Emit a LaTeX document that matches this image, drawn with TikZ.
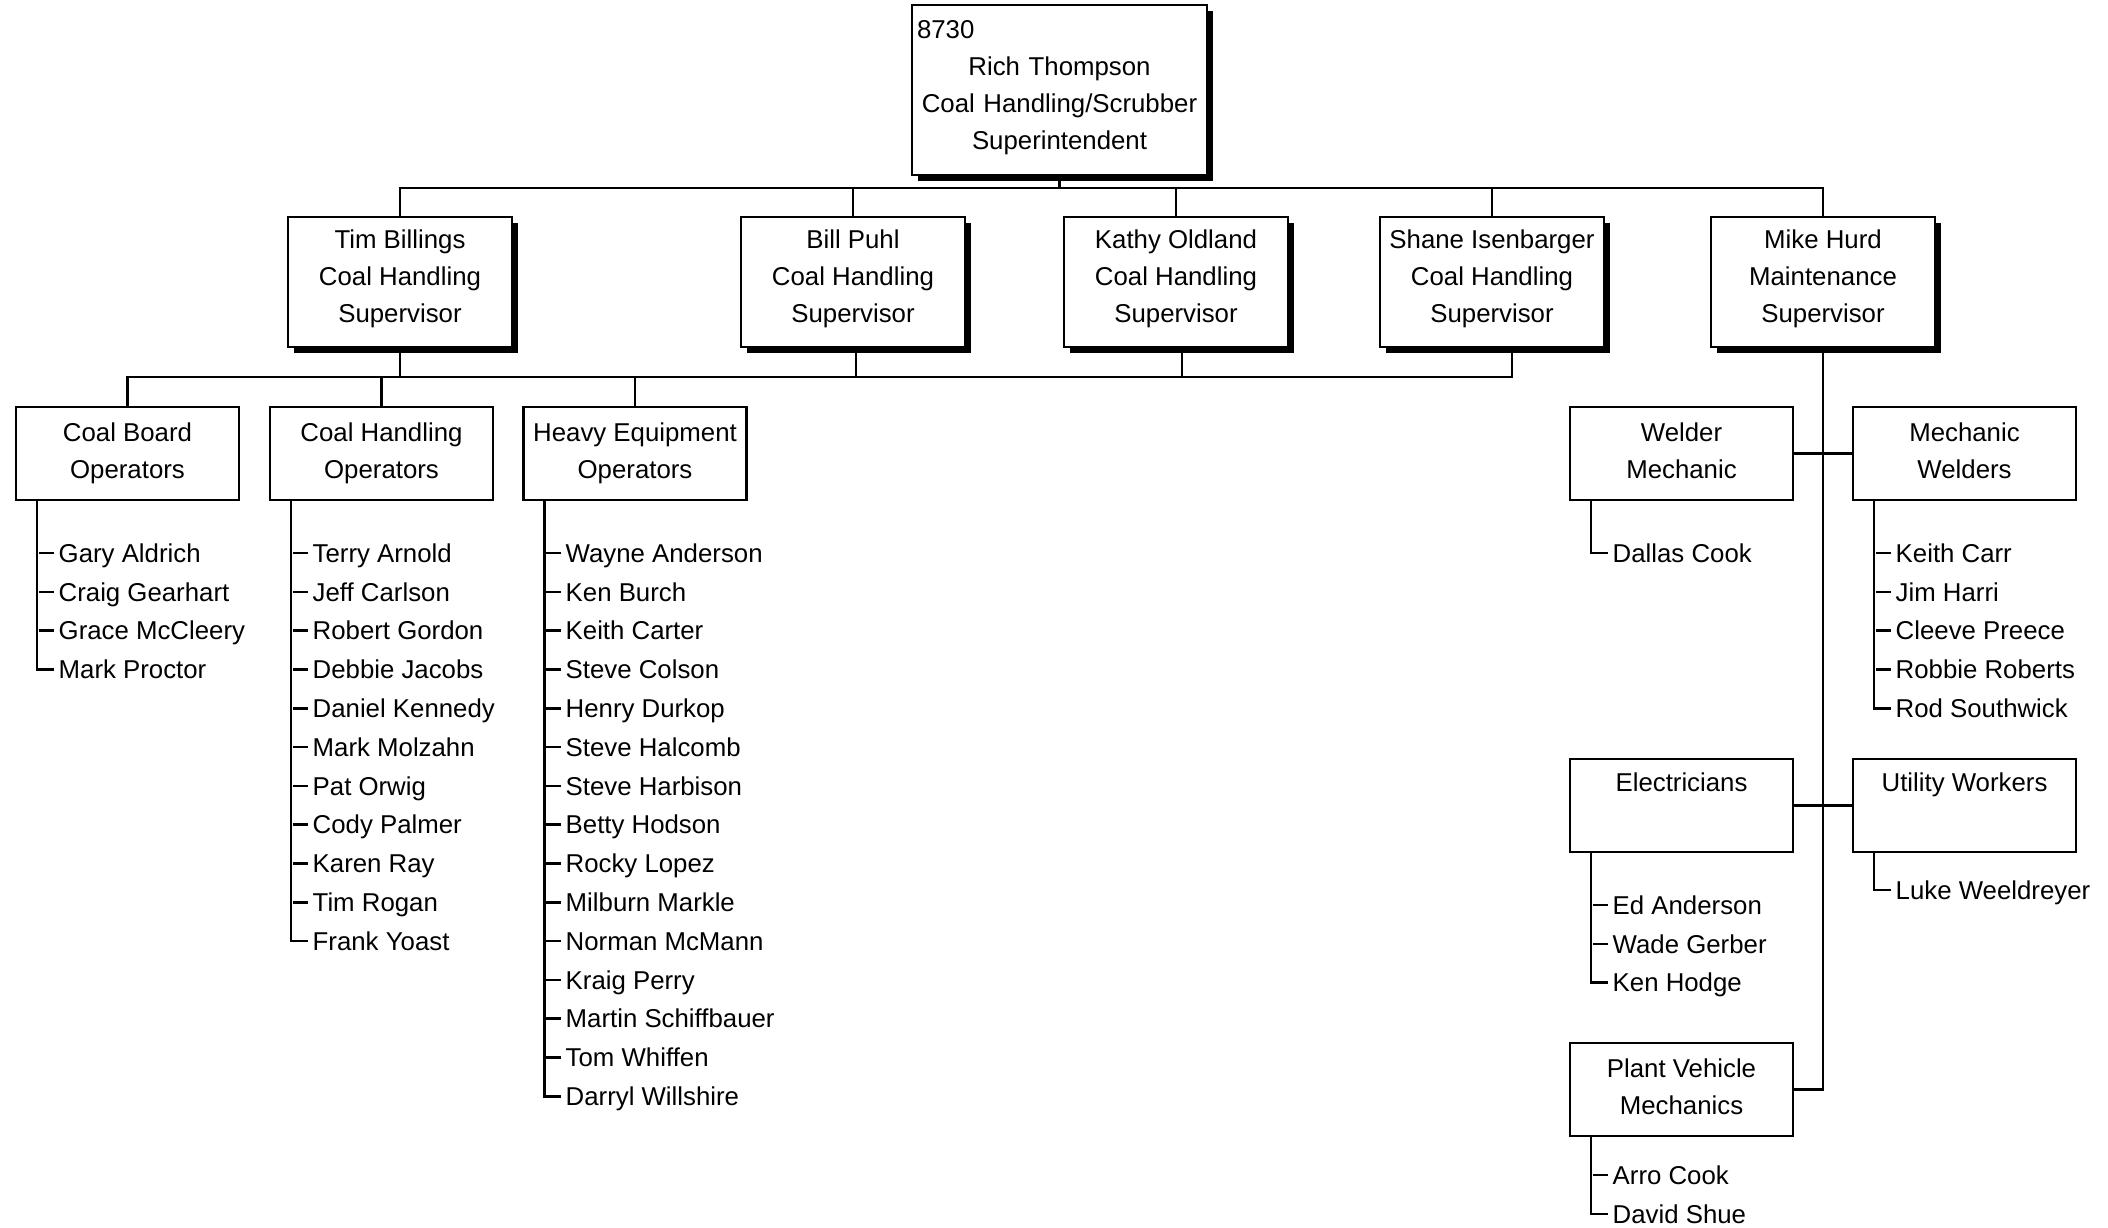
\documentclass[tikz,border=0pt]{standalone}
\usepackage{fontspec}
\setmainfont{Liberation Sans}
\usetikzlibrary{shadows,calc}
\newcommand\firstln{\rule{0pt}{18.8pt}}
\newcommand\lastln{\rule[-5.5pt]{0pt}{5.5pt}}
\newcommand\suplastln{\rule[-11.5pt]{0pt}{11.5pt}}
\newcommand\mklist[4]{%
  \foreach \nm [count=\i] in {#4} {%
    \node[item] (#1-\i) at ({#2+15}, {#3+(\i-1)*38.8}) {\nm};
    \draw[ln] (#1-\i.west) -- ++(-15,0);
    \xdef\lastn{\i}}
  \draw[ln] (#1.south west) ++(22.5,0) |- (#1-\lastn.west);}
\begin{document}
\begin{tikzpicture}[x=1pt,y=-1pt,
  every node/.style={font=\fontsize{25.8pt}{37pt}\selectfont},
  ln/.style={line width=2.6pt},
  box/.style={draw, line width=2.8pt, fill=white, align=center,
    minimum width=223pt, minimum height=93pt, inner sep=0pt},
  sbox/.style={box, minimum width=224pt, minimum height=130pt,
    drop shadow={shadow xshift=6pt, shadow yshift=-6pt, fill=black, opacity=1}},
  item/.style={anchor=west, inner xsep=5pt, inner ysep=0pt, text height=18.5pt, text depth=0pt}]
\useasboundingbox (0,0) rectangle (2108,1227);

% top
\node[box, minimum width=295pt, minimum height=170pt, text width=285pt,
  drop shadow={shadow xshift=6pt, shadow yshift=-6pt, fill=black, opacity=1}]
  (top) at (1059.5,90) {\makebox[285pt][l]{8730}\\Rich Thompson\\Coal Handling/Scrubber\\Superintendent\rule[-9.5pt]{0pt}{9.5pt}};

% supervisors
\node[sbox] (tim) at (400,282) {\firstln Tim Billings\\Coal Handling\\Supervisor\suplastln};
\node[sbox] (bill) at (853,282) {\firstln Bill Puhl\\Coal Handling\\Supervisor\suplastln};
\node[sbox] (kathy) at (1176,282) {\firstln Kathy Oldland\\Coal Handling\\Supervisor\suplastln};
\node[sbox] (shane) at (1492,282) {\firstln Shane Isenbarger\\Coal Handling\\Supervisor\suplastln};
\node[sbox] (mike) at (1823,282) {\firstln Mike Hurd\\Maintenance\\Supervisor\suplastln};

% groups
\node[box] (cbo) at (127.5,453.5) {\firstln Coal Board\\Operators\lastln};
\node[box] (cho) at (381.5,453.5) {\firstln Coal Handling\\Operators\lastln};
\node[box] (heo) at (635,453.5) {\firstln Heavy Equipment\\Operators\lastln};
\node[box] (wm) at (1681.5,453.5) {\firstln Welder\\Mechanic\lastln};
\node[box] (mw) at (1964.5,453.5) {\firstln Mechanic\\Welders\lastln};
\node[box] (el) at (1681.5,805.5) {\firstln Electricians\\\rule[-9pt]{0pt}{9pt}};
\node[box] (uw) at (1964.5,805.5) {\firstln Utility Workers\\\rule[-9pt]{0pt}{9pt}};
\node[box] (pv) at (1681.5,1089.5) {\firstln Plant Vehicle\\Mechanics\lastln};

% top bus
\coordinate (b1) at (0,188);
\draw[ln] (top.south) -- (top.south |- b1);
\draw[ln] (tim.north) |- (b1 -| mike.north) -- (mike.north);
\foreach \n in {bill,kathy,shane} \draw[ln] (\n.north) -- (\n.north |- b1);

% second bus
\coordinate (b2) at (0,377);
\coordinate (bd) at ($(bill.south)+(3,0)$);
\coordinate (kd) at ($(kathy.south)+(6,0)$);
\coordinate (sd) at ($(shane.south)+(20,0)$);
\draw[ln] (cbo.north) |- (sd |- b2) -- (sd);
\draw[ln] (tim.south) -- (tim.south |- b2);
\draw[ln] (bd) -- (bd |- b2);
\draw[ln] (kd) -- (kd |- b2);
\draw[ln] (cho.north) -- (cho.north |- b2);
\draw[ln] (heo.north) -- (heo.north |- b2);

% maintenance
\draw[ln] (mike.south) -- (mike.south |- pv.east) -- (pv.east);
\draw[ln] (wm.east) -- (mw.west);
\draw[ln] (el.east) -- (uw.west);

% lists
\mklist{cbo}{38.5}{553}{Gary Aldrich, Craig Gearhart, Grace McCleery, Mark Proctor}
\mklist{cho}{292.5}{553}{Terry Arnold, Jeff Carlson, Robert Gordon, Debbie Jacobs, Daniel Kennedy, Mark Molzahn, Pat Orwig, Cody Palmer, Karen Ray, Tim Rogan, Frank Yoast}
\mklist{heo}{545.5}{553}{Wayne Anderson, Ken Burch, Keith Carter, Steve Colson, Henry Durkop, Steve Halcomb, Steve Harbison, Betty Hodson, Rocky Lopez, Milburn Markle, Norman McMann, Kraig Perry, Martin Schiffbauer, Tom Whiffen, Darryl Willshire}
\mklist{wm}{1592.5}{553}{Dallas Cook}
\mklist{mw}{1875.5}{553}{Keith Carr, Jim Harri, Cleeve Preece, Robbie Roberts, Rod Southwick}
\mklist{el}{1592.5}{905}{Ed Anderson, Wade Gerber, Ken Hodge}
\mklist{uw}{1875.5}{890}{Luke Weeldreyer}
\mklist{pv}{1592.5}{1175}{Arro Cook, David Shue}
\end{tikzpicture}
\end{document}
